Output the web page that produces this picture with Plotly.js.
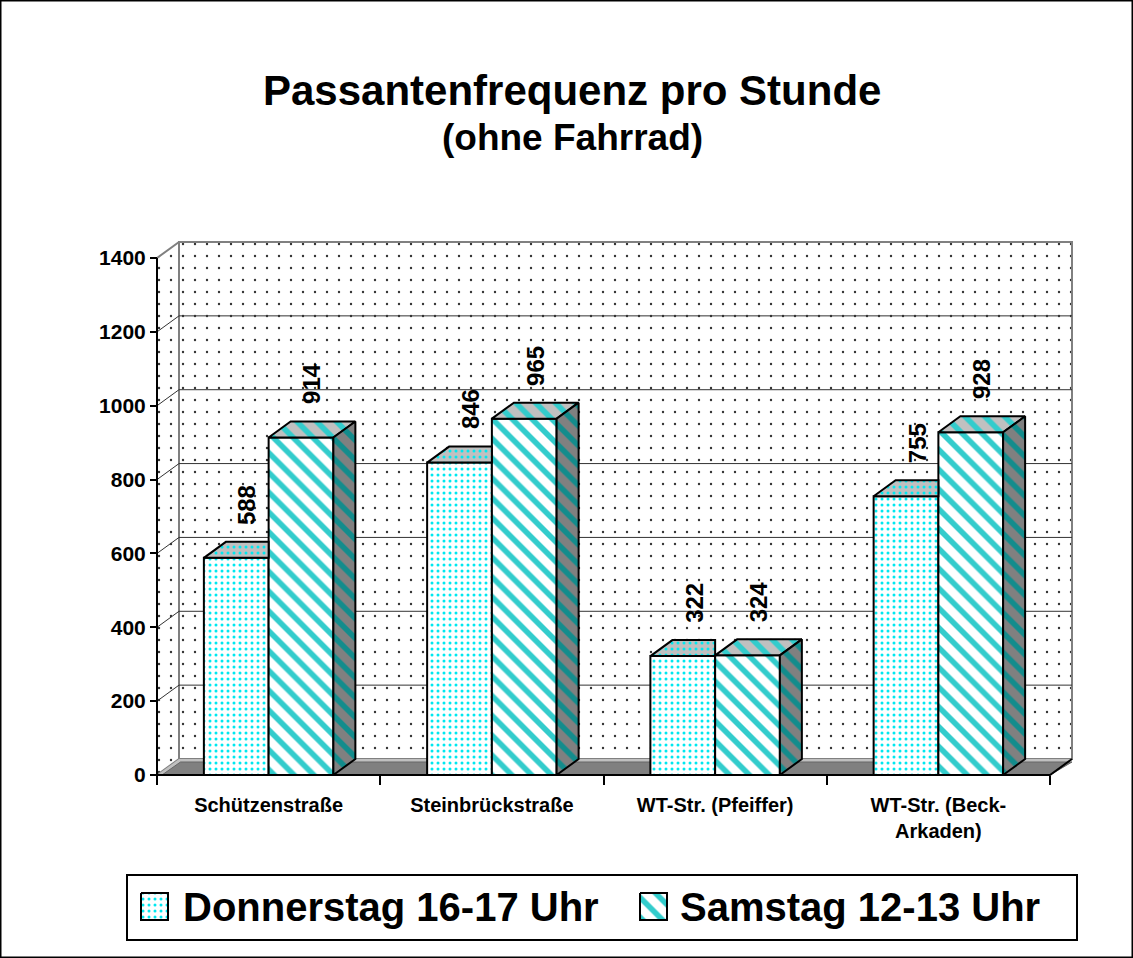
<!DOCTYPE html>
<html>
<head>
<meta charset="utf-8">
<script src="https://cdn.plot.ly/plotly-3.0.1.min.js"></script>
<style>
html,body{margin:0;padding:0;background:#fff;}
#chart{width:1133px;height:958px;}
</style>
</head>
<body>
<div id="chart"></div>
<script>
// ---------- data ----------
const categories = ['Schützenstraße', 'Steinbrückstraße', 'WT-Str. (Pfeiffer)', 'WT-Str. (Beck-<br>Arkaden)'];
const seriesNames = ['Donnerstag 16-17 Uhr', 'Samstag 12-13 Uhr'];
const donnerstag = [588, 846, 322, 755];
const samstag = [914, 965, 324, 928];
const yTicks = [0, 200, 400, 600, 800, 1000, 1200, 1400];
const chartTitle = 'Passantenfrequenz pro Stunde';
const chartSubtitle = '(ohne Fahrrad)';

// ---------- geometry ----------
const W = 1133, H = 958;
const M = {l: 20, r: 20, t: 20, b: 20};
const PW = W - M.l - M.r, PH = H - M.t - M.b;
const FRONT_L = 157, FRONT_R = 1050, Y0PX = 775, YTOPPX = 258;
const DXPX = 22, DYPX = 16, PAD = 4;
const NC = categories.length;
const YMAX = yTicks[yTicks.length - 1];
const ux = (FRONT_R - FRONT_L) / NC;
const uy = (Y0PX - YTOPPX) / YMAX;
const DX = DXPX / ux, DY = DYPX / uy;
const XL = -0.5, XR = NC - 0.5;
const xr = [XL - PAD / ux, XR + DX + PAD / ux];
const yr = [-PAD / uy, YMAX + DY + PAD / uy];
const plotL = FRONT_L - PAD, plotR = FRONT_R + DXPX + PAD;
const plotB = Y0PX + PAD, plotT = YTOPPX - DYPX - PAD;
const xp = px => (px - M.l) / PW;
const yp = py => (H - M.b - py) / PH;
const BARW = 0.29;

const FONT = 'Liberation Sans, Arial, Helvetica, sans-serif';

// patterns
const patD = {shape: '.', bgcolor: '#FFFFFF', fgcolor: '#00E8F0', size: 6, solidity: 0.2};
const patS = {shape: '\\', bgcolor: '#FFFFFF', fgcolor: '#33CCCC', size: 14, solidity: 0.4};
const patDTop = {shape: '.', bgcolor: '#C0C0C0', fgcolor: '#00E8F0', size: 6, solidity: 0.2};
const patSTop = {shape: '\\', bgcolor: '#C0C0C0', fgcolor: '#33CCCC', size: 14, solidity: 0.4};
const patSSide = {shape: '\\', bgcolor: '#808080', fgcolor: '#138C8C', size: 14, solidity: 0.4};
const patWall = {shape: '.', bgcolor: '#FFFFFF', fgcolor: '#333333', size: 12, solidity: 0.03};

function poly(pts) { return {x: pts.map(p => p[0]).concat([pts[0][0], null]), y: pts.map(p => p[1]).concat([pts[0][1], null])}; }
function joinPolys(list) { const x = [], y = []; list.forEach(p => { x.push(...p.x); y.push(...p.y); }); return {x, y}; }

const traces = [];
// ----- walls (base subplot) -----
const leftWall = poly([[XL, 0], [XL + DX, DY], [XL + DX, YMAX + DY], [XL, YMAX]]);
traces.push({type: 'scatter', mode: 'lines', x: leftWall.x, y: leftWall.y, fill: 'toself', fillpattern: patWall, fillcolor: '#FFFFFF',
  line: {color: '#808080', width: 2}, hoverinfo: 'skip', showlegend: false, xaxis: 'x', yaxis: 'y'});
const backWall = poly([[XL + DX, DY], [XR + DX, DY], [XR + DX, YMAX + DY], [XL + DX, YMAX + DY]]);
traces.push({type: 'scatter', mode: 'lines', x: backWall.x, y: backWall.y, fill: 'toself', fillpattern: patWall, fillcolor: '#FFFFFF',
  line: {color: '#808080', width: 2}, hoverinfo: 'skip', showlegend: false, xaxis: 'x', yaxis: 'y'});
// gridlines
const gx = [], gy = [];
yTicks.slice(1, -1).forEach(v => {
  gx.push(XL + DX, XR + DX, null); gy.push(v + DY, v + DY, null);
  gx.push(XL, XL + DX, null); gy.push(v, v + DY, null);
});
traces.push({type: 'scatter', mode: 'lines', x: gx, y: gy, line: {color: '#333333', width: 1}, hoverinfo: 'skip', showlegend: false, xaxis: 'x', yaxis: 'y'});
// floor
const floorL = poly([[XL, 0], [XR, 0], [XR + DX, DY], [XL + DX, DY]]);
traces.push({type: 'scatter', mode: 'lines', x: floorL.x, y: floorL.y, fill: 'toself', fillcolor: '#C0C0C0',
  line: {color: '#C0C0C0', width: 0}, hoverinfo: 'skip', showlegend: false, xaxis: 'x', yaxis: 'y'});
const inX = 5 / ux, inY = 3 / uy;
const floorD = poly([[XL + inX, 0], [XR, 0], [XR + DX, DY - inY], [XL + DX + inX * 0.3, DY - inY]]);
traces.push({type: 'scatter', mode: 'lines', x: floorD.x, y: floorD.y, fill: 'toself', fillcolor: '#808080',
  line: {color: '#666666', width: 1}, hoverinfo: 'skip', showlegend: false, xaxis: 'x', yaxis: 'y'});

// ----- bars (overlay subplot) -----
const idx = categories.map((c, i) => i);
traces.push({type: 'bar', name: seriesNames[0], x: idx, y: donnerstag, xaxis: 'x2', yaxis: 'y2',
  marker: {color: '#FFFFFF', pattern: patD, line: {color: '#000', width: 2}}, hoverinfo: 'skip', showlegend: false});
traces.push({type: 'bar', name: seriesNames[1], x: idx, y: samstag, xaxis: 'x2', yaxis: 'y2',
  marker: {color: '#FFFFFF', pattern: patS, line: {color: '#000', width: 2}}, hoverinfo: 'skip', showlegend: false});

// 3D tops and sides computed from the values
const dTops = [], sTops = [], sSides = [];
idx.forEach(i => {
  const d0 = i - BARW, d1 = i, s0 = i, s1 = i + BARW;
  const vd = donnerstag[i], vs = samstag[i];
  dTops.push(poly([[d0, vd], [d1, vd], [d1, vd + DY], [d0 + DX, vd + DY]]));
  sTops.push(poly([[s0, vs], [s1, vs], [s1 + DX, vs + DY], [s0 + DX, vs + DY]]));
  sSides.push(poly([[s1, 0], [s1, vs], [s1 + DX, vs + DY], [s1 + DX, DY]]));
});
[[dTops, patDTop], [sTops, patSTop], [sSides, patSSide]].forEach(([list, pat]) => {
  const p = joinPolys(list);
  traces.push({type: 'scatter', mode: 'lines', x: p.x, y: p.y, fill: 'toself', fillpattern: pat, fillcolor: pat.bgcolor,
    line: {color: '#000', width: 2}, hoverinfo: 'skip', showlegend: false, xaxis: 'x2', yaxis: 'y2'});
});
// front axis lines
traces.push({type: 'scatter', mode: 'lines', x: [XL, XL, null, XL, XR, XR + DX], y: [YMAX, 0, null, 0, 0, DY],
  line: {color: '#000', width: 2}, hoverinfo: 'skip', showlegend: false, xaxis: 'x2', yaxis: 'y2'});

// ----- legend symbols (pixel subplot) -----
const legSym = [[141, 893], [640, 893]];
const SYM = 27;
[patD, patS].forEach((pat, k) => {
  const [lx, ty] = legSym[k];
  const p = poly([[lx, ty], [lx + SYM, ty], [lx + SYM, ty + SYM], [lx, ty + SYM]]);
  traces.push({type: 'scatter', mode: 'lines', x: p.x, y: p.y, fill: 'toself', fillpattern: pat, fillcolor: pat.bgcolor,
    line: {color: '#000', width: 2}, hoverinfo: 'skip', showlegend: false, xaxis: 'x3', yaxis: 'y3'});
});

// ----- annotations -----
const annotations = [];
idx.forEach(i => {
  [[donnerstag[i], i - BARW / 2], [samstag[i], i + BARW / 2]].forEach(([v, xc]) => {
    annotations.push({xref: 'x', yref: 'y', x: xc + DX / 2, y: v + DY, text: String(v), showarrow: false,
      textangle: -90, xanchor: 'center', yanchor: 'bottom', yshift: 15,
      font: {family: FONT, size: 24, weight: 'bold', color: '#000'}});
  });
});
annotations.push({xref: 'paper', yref: 'paper', x: xp(572), y: yp(90), text: chartTitle, showarrow: false,
  xanchor: 'center', yanchor: 'middle', font: {family: FONT, size: 42, weight: 'bold', color: '#000'}});
annotations.push({xref: 'paper', yref: 'paper', x: xp(572), y: yp(137), text: chartSubtitle, showarrow: false,
  xanchor: 'center', yanchor: 'middle', font: {family: FONT, size: 37, weight: 'bold', color: '#000'}});
annotations.push({xref: 'paper', yref: 'paper', x: xp(181), y: yp(907), text: seriesNames[0], showarrow: false,
  xanchor: 'left', yanchor: 'middle', font: {family: FONT, size: 40, weight: 'bold', color: '#000'}});
annotations.push({xref: 'paper', yref: 'paper', x: xp(678), y: yp(907), text: seriesNames[1], showarrow: false,
  xanchor: 'left', yanchor: 'middle', font: {family: FONT, size: 40, weight: 'bold', color: '#000'}});

const shapes = [
  {type: 'rect', xref: 'paper', yref: 'paper', x0: xp(0.75), x1: xp(W - 0.75), y0: yp(0.75), y1: yp(H - 0.75), line: {color: '#000', width: 1.5}},
  {type: 'rect', xref: 'paper', yref: 'paper', x0: xp(127), x1: xp(1077), y0: yp(875), y1: yp(940), line: {color: '#000', width: 2}}
];

const boundaries = [];
for (let i = 0; i <= NC; i++) boundaries.push(i - 0.5);

const layout = {
  width: W, height: H,
  margin: M,
  paper_bgcolor: '#FFFFFF',
  plot_bgcolor: 'rgba(0,0,0,0)',
  font: {family: FONT, color: '#000'},
  showlegend: false,
  barmode: 'group', bargap: 1 - 2 * BARW, bargroupgap: 0,
  xaxis: {domain: [xp(plotL), xp(plotR)], range: xr, anchor: 'free', position: yp(Y0PX),
    tickmode: 'array', tickvals: idx, ticktext: categories, ticks: 'outside', ticklen: 12, tickcolor: 'rgba(0,0,0,0)',
    minor: {tickmode: 'array', tickvals: boundaries, ticks: 'outside', ticklen: 9, tickwidth: 2, tickcolor: '#000', showgrid: false},
    showgrid: false, zeroline: false, showline: false, fixedrange: true,
    tickfont: {family: FONT, size: 20, weight: 'bold', color: '#000'}},
  yaxis: {domain: [yp(plotB), yp(plotT)], range: yr, anchor: 'free', position: xp(FRONT_L),
    tickmode: 'array', tickvals: yTicks, ticks: 'outside', ticklen: 7, tickwidth: 2, tickcolor: '#000',
    showgrid: false, zeroline: false, showline: false, fixedrange: true,
    tickfont: {family: FONT, size: 21, weight: 'bold', color: '#000'}},
  xaxis2: {overlaying: 'x', anchor: 'y2', domain: [xp(plotL), xp(plotR)], range: xr, visible: false, fixedrange: true},
  yaxis2: {overlaying: 'y', anchor: 'x2', domain: [yp(plotB), yp(plotT)], range: yr, visible: false, fixedrange: true},
  xaxis3: {anchor: 'y3', domain: [0, 1], range: [M.l, W - M.r], visible: false, fixedrange: true},
  yaxis3: {anchor: 'x3', domain: [0, 1], range: [H - M.b, M.t], visible: false, fixedrange: true},
  annotations: annotations,
  shapes: shapes
};

Plotly.newPlot('chart', traces, layout, {displayModeBar: false, staticPlot: true});
</script>
</body>
</html>
